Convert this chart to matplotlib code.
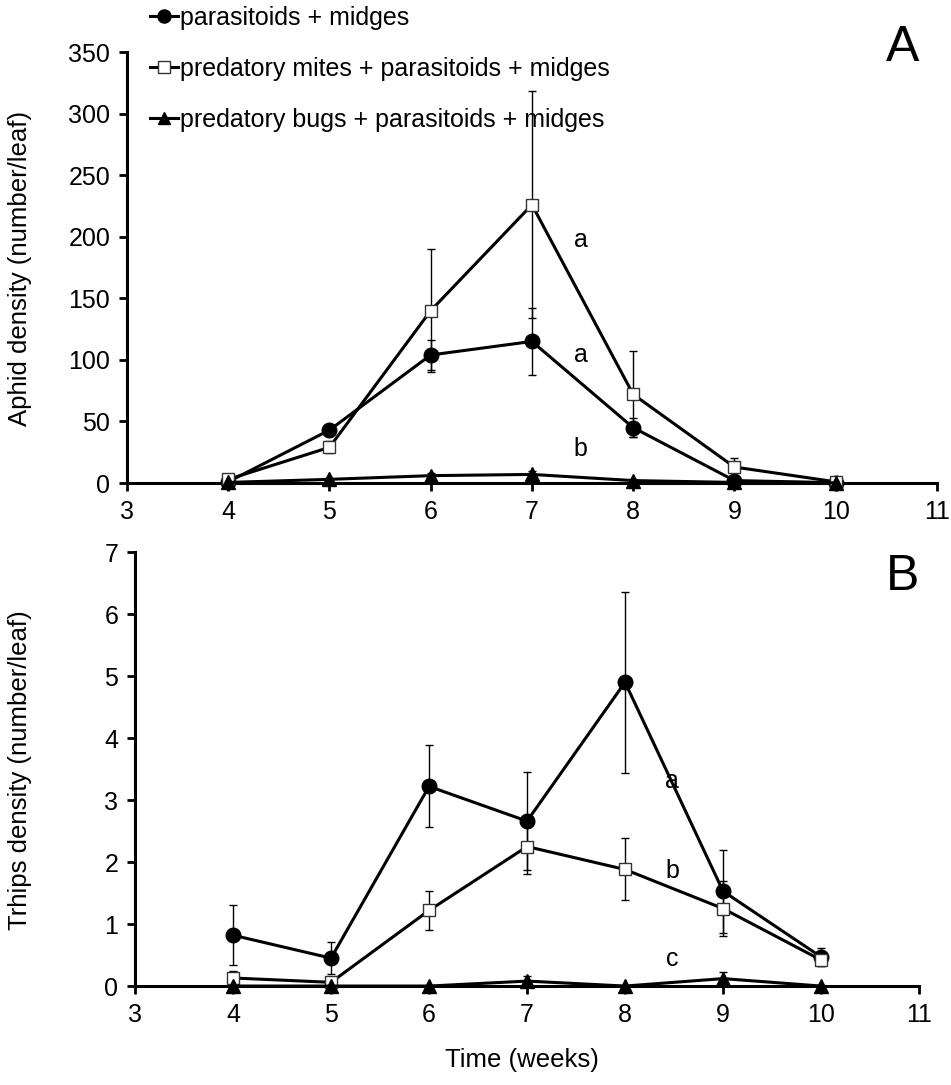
import matplotlib
matplotlib.use("Agg")
import matplotlib.pyplot as plt

plt.rcParams['font.family'] = ['Liberation Sans', 'DejaVu Sans']

weeks = [4, 5, 6, 7, 8, 9, 10]
labels = ["parasitoids + midges",
          "predatory mites + parasitoids + midges",
          "predatory bugs + parasitoids + midges"]

# Panel A: aphids
aphid_pm = [1, 43, 104, 115, 45, 2, 0.3]
aphid_pm_err = [0.5, 4, 12, 27, 8, 1, 0.2]
aphid_mites = [3, 29, 140, 226, 72, 13, 1]
aphid_mites_err = [1.5, 5, 50, 92, 35, 7, 0.5]
aphid_bugs = [0.5, 3, 6, 7, 2, 0.5, 0.2]
aphid_bugs_err = [0.3, 1, 2, 3, 1, 0.3, 0.1]

# Panel B: thrips
thrips_pm = [0.82, 0.45, 3.22, 2.66, 4.90, 1.53, 0.47]
thrips_pm_err = [0.48, 0.26, 0.66, 0.79, 1.46, 0.67, 0.15]
thrips_mites = [0.13, 0.06, 1.22, 2.25, 1.88, 1.25, 0.42]
thrips_mites_err = [0.12, 0.05, 0.32, 0.44, 0.50, 0.45, 0.10]
thrips_bugs = [0, 0, 0, 0.08, 0, 0.12, 0]
thrips_bugs_err = [0, 0, 0, 0.08, 0, 0.10, 0]

letters_A = [("a", 7.48, 197), ("a", 7.48, 104), ("b", 7.48, 28)]
letters_B = [("a", 8.48, 3.30), ("b", 8.48, 1.85), ("c", 8.48, 0.43)]

FS = 18
LFS = 18.5

fig = plt.figure(figsize=(9.51, 10.85), dpi=100)
axA = fig.add_axes([0.1335, 0.5548, 0.8517, 0.3972])
axB = fig.add_axes([0.142, 0.0912, 0.8244, 0.4000])

styles = [
    dict(marker='o', markersize=10.5, markerfacecolor='black', markeredgecolor='black'),
    dict(marker='s', markersize=9, markerfacecolor='white', markeredgecolor='#333333', markeredgewidth=1.0),
    dict(marker='^', markersize=10, markerfacecolor='black', markeredgecolor='black'),
]

def draw(ax, series, ylim, yticks, letters):
    handles = []
    for (vals, errs), st, lab in zip(series, styles, labels):
        ax.errorbar(weeks, vals, yerr=errs, fmt='none', ecolor='black',
                    elinewidth=1.0, capsize=3, capthick=1.0, clip_on=False, zorder=2)
        h, = ax.plot(weeks, vals, color='black', linewidth=2.2, clip_on=False,
                     zorder=3, label=lab, **st)
        handles.append(h)
    ax.set_xlim(3, 11)
    ax.set_ylim(*ylim)
    ax.set_xticks(range(3, 12))
    ax.set_yticks(yticks)
    for s in ['top', 'right']:
        ax.spines[s].set_visible(False)
    for s in ['left', 'bottom']:
        ax.spines[s].set_linewidth(2.2)
        ax.spines[s].set_zorder(1)
    ax.tick_params(axis='both', direction='out', length=6, width=2,
                   labelsize=FS, pad=6)
    for t, x, y in letters:
        ax.text(x, y, t, fontsize=FS, ha='center', va='center')
    return handles

hA = draw(axA, [(aphid_pm, aphid_pm_err), (aphid_mites, aphid_mites_err),
                (aphid_bugs, aphid_bugs_err)], (0, 350), range(0, 351, 50), letters_A)
draw(axB, [(thrips_pm, thrips_pm_err), (thrips_mites, thrips_mites_err),
           (thrips_bugs, thrips_bugs_err)], (0, 7), range(0, 8), letters_B)

fig.text(903 / 951, 1 - 48 / 1085, "A", fontsize=36, ha='center', va='center')
fig.text(903 / 951, 1 - 577 / 1085, "B", fontsize=36, ha='center', va='center')

fig.text(20 / 951, 1 - 268 / 1085, "Aphid density (number/leaf)", fontsize=LFS,
         rotation=90, ha='center', va='center')
fig.text(20 / 951, 1 - 770 / 1085, "Trhips density (number/leaf)", fontsize=LFS,
         rotation=90, ha='center', va='center')
fig.text(522 / 951, 1 - 1060 / 1085, "Time (weeks)", fontsize=LFS,
         ha='center', va='center')

fig.legend(handles=hA, labels=labels, loc='upper left',
           bbox_to_anchor=(150 / 951, 1 - 6 / 1085), frameon=False,
           fontsize=FS, handlelength=1.1, handletextpad=0.1,
           labelspacing=1.08, borderpad=0, borderaxespad=0, markerscale=0.9)

fig.savefig("out.png", dpi=100)
